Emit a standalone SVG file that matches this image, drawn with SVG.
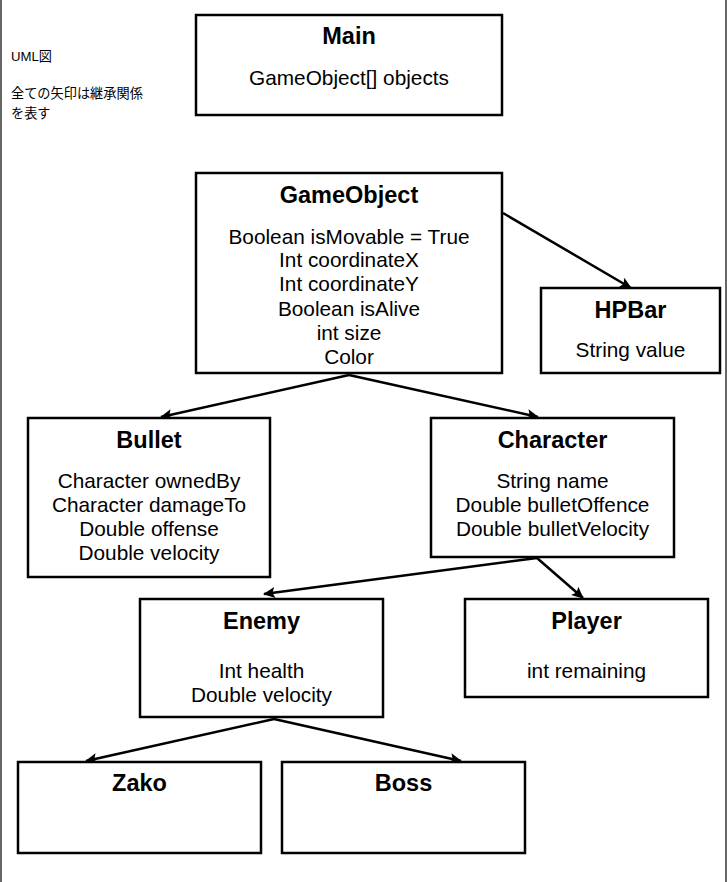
<svg xmlns="http://www.w3.org/2000/svg" width="727" height="882" viewBox="0 0 727 882">
<style>
.box{fill:#fff;stroke:#000;stroke-width:2.5}
.t{font-family:"Liberation Sans",Arial,sans-serif;font-weight:bold;font-size:23.5px;text-anchor:middle;fill:#000}
.b{font-family:"Liberation Sans",Arial,sans-serif;font-size:20.8px;text-anchor:middle;fill:#000}
.n{font-family:"Liberation Sans","Noto Sans CJK JP",sans-serif;font-size:13.2px;fill:#000}
.c{fill:none;stroke:#000;stroke-width:2.5;marker-end:url(#arr)}
.edge{stroke:#333;stroke-width:1.5}
</style>
<defs>
<marker id="arr" markerUnits="userSpaceOnUse" markerWidth="12" markerHeight="12" refX="11" refY="6" orient="auto" viewBox="0 0 12 12">
<path d="M0,0.5 L12,6 L0,11.5 L2.5,6 z" fill="#000"/>
</marker>
</defs>
<rect width="727" height="882" fill="#fff"/>
<line class="edge" x1="1" y1="0" x2="1" y2="882"/>
<line class="edge" x1="726" y1="0" x2="726" y2="882"/>
<g id="note">
<text class="n" x="11" y="61">UML図</text>
<text class="n" x="11" y="98">全ての矢印は継承関係</text>
<text class="n" x="11" y="118">を表す</text>
</g>
<g id="connectors">
<line class="c" x1="503" y1="213" x2="631" y2="288"/>
<line class="c" x1="349" y1="375" x2="161" y2="417"/>
<line class="c" x1="349" y1="375" x2="538" y2="417"/>
<line class="c" x1="537" y1="558" x2="264" y2="594"/>
<line class="c" x1="537" y1="558" x2="583" y2="598"/>
<line class="c" x1="274" y1="719" x2="86" y2="761"/>
<line class="c" x1="274" y1="719" x2="461" y2="761"/>
</g>
<g id="main">
<rect class="box" x="196" y="15" width="306" height="100"/>
<text class="t" x="349" y="44">Main</text>
<text class="b" x="349" y="85">GameObject[] objects</text>
</g>
<g id="gameobject">
<rect class="box" x="196" y="173" width="306" height="200"/>
<text class="t" x="349" y="203">GameObject</text>
<text class="b" x="349" y="244">Boolean isMovable = True</text>
<text class="b" x="349" y="267">Int coordinateX</text>
<text class="b" x="349" y="291">Int coordinateY</text>
<text class="b" x="349" y="316">Boolean isAlive</text>
<text class="b" x="349" y="340">int size</text>
<text class="b" x="349" y="364">Color</text>
</g>
<g id="hpbar">
<rect class="box" x="541" y="288" width="179" height="85"/>
<text class="t" x="630.5" y="318">HPBar</text>
<text class="b" x="630.5" y="357">String value</text>
</g>
<g id="bullet">
<rect class="box" x="28" y="418" width="242" height="159"/>
<text class="t" x="149" y="448">Bullet</text>
<text class="b" x="149" y="488">Character ownedBy</text>
<text class="b" x="149" y="512">Character damageTo</text>
<text class="b" x="149" y="536">Double offense</text>
<text class="b" x="149" y="560">Double velocity</text>
</g>
<g id="character">
<rect class="box" x="431" y="418" width="243" height="139"/>
<text class="t" x="552.5" y="448">Character</text>
<text class="b" x="552.5" y="488">String name</text>
<text class="b" x="552.5" y="512">Double bulletOffence</text>
<text class="b" x="552.5" y="536">Double bulletVelocity</text>
</g>
<g id="enemy">
<rect class="box" x="140" y="599" width="243" height="118"/>
<text class="t" x="261.5" y="629">Enemy</text>
<text class="b" x="261.5" y="678">Int health</text>
<text class="b" x="261.5" y="702">Double velocity</text>
</g>
<g id="player">
<rect class="box" x="465" y="599" width="243" height="98"/>
<text class="t" x="586.5" y="629">Player</text>
<text class="b" x="586.5" y="678">int remaining</text>
</g>
<g id="zako">
<rect class="box" x="18" y="762" width="243" height="91"/>
<text class="t" x="139.5" y="791">Zako</text>
</g>
<g id="boss">
<rect class="box" x="282" y="762" width="243" height="91"/>
<text class="t" x="403.5" y="791">Boss</text>
</g>
</svg>
